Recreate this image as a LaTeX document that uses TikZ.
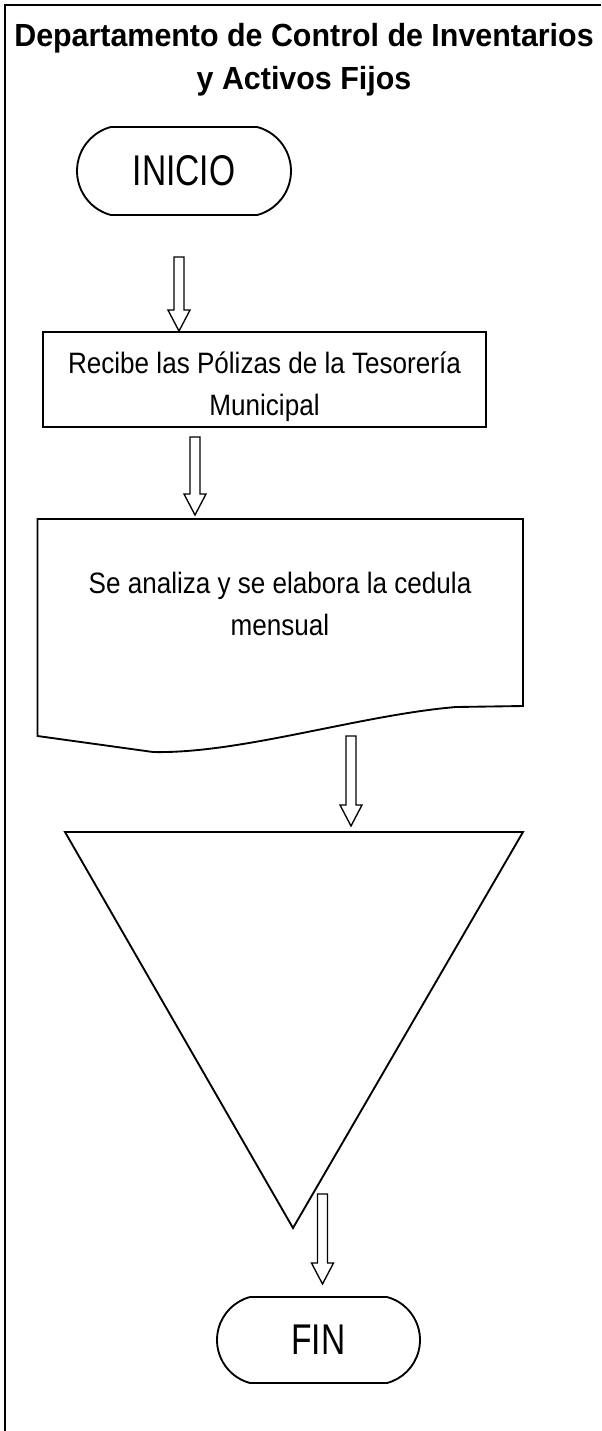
\documentclass[tikz,border=0pt]{standalone}
\usepackage{fontspec}
\usetikzlibrary{shapes.misc}
\newfontfamily\titulofont[FakeStretch=0.95]{Liberation Sans}
\newfontfamily\textofont[FakeStretch=0.885]{Liberation Sans}
\newfontfamily\terminalfont[FakeStretch=0.78]{Liberation Sans}
\tikzset{
    forma/.style={draw, line width=1.4pt},
    terminal/.style={forma, rounded rectangle, rounded rectangle arc length=150, inner sep=0pt,
        font=\terminalfont\fontsize{32.25}{40}\selectfont},
    proceso/.style={forma, rectangle, align=center, inner sep=0pt,
        font=\textofont\fontsize{22.1}{31.5}\selectfont},
    flecha/.style={line width=1pt, to path={([shift={(-5,0)}]\tikztostart) -- ([shift={(5,0)}]\tikztostart)
        -- ([shift={(5,-21)}]\tikztotarget) -- ([shift={(11,-21)}]\tikztotarget) -- (\tikztotarget)
        -- ([shift={(-11,-21)}]\tikztotarget) -- ([shift={(-5,-21)}]\tikztotarget) -- cycle}}
}
\begin{document}
\begin{tikzpicture}[x=0.75pt,y=-0.75pt]
        \useasboundingbox (0,0) rectangle (601,1431);
        \draw[line width=2pt] (601,5) -- (5,5) -- (5,1431);
        \node[align=center, font=\titulofont\bfseries\fontsize{24}{32.25}\selectfont] (titulo) at (304,60) {Departamento de Control de Inventarios\\y Activos Fijos};
        \node[terminal, minimum width=160.5pt, minimum height=66pt] (inicio) at (184,171) {INICIO};
        \node[proceso, minimum width=332.25pt, minimum height=71.25pt] (recibe) at (264.5,379.5) {\rule{0pt}{26.4pt}Recibe las Pólizas de la Tesorería\\Municipal};
        \node[align=center, font=\textofont\fontsize{22.1}{31.5}\selectfont] (cedula) at (280,604) {Se analiza y se elabora la cedula\\mensual};
        \draw[forma] (37.5,519) -- (523,519) -- (523,706) -- (456,707) .. controls (360,715) and (240,754) .. (153,752) -- (37.5,736) -- cycle;
        \draw[forma] (65,832) -- (523,832) -- (293,1228) -- cycle;
        \node[terminal, minimum width=152.25pt, minimum height=64.5pt] (fin) at (318.5,1340) {FIN};
        \coordinate (f1) at (179,257);
        \coordinate (p1) at (f1 |- recibe.north);
        \coordinate (f2) at (195,437);
        \coordinate (p2) at (195,515);
        \coordinate (f3) at (351,736);
        \coordinate (p3) at (351,826);
        \coordinate (f4) at (322.5,1194);
        \coordinate (p4) at (322.5,1284);
        \path[draw,flecha] (f1) to (p1);
        \path[draw,flecha] (f2) to (p2);
        \path[draw,flecha] (f3) to (p3);
        \path[draw,flecha] (f4) to (p4);
\end{tikzpicture}
\end{document}
